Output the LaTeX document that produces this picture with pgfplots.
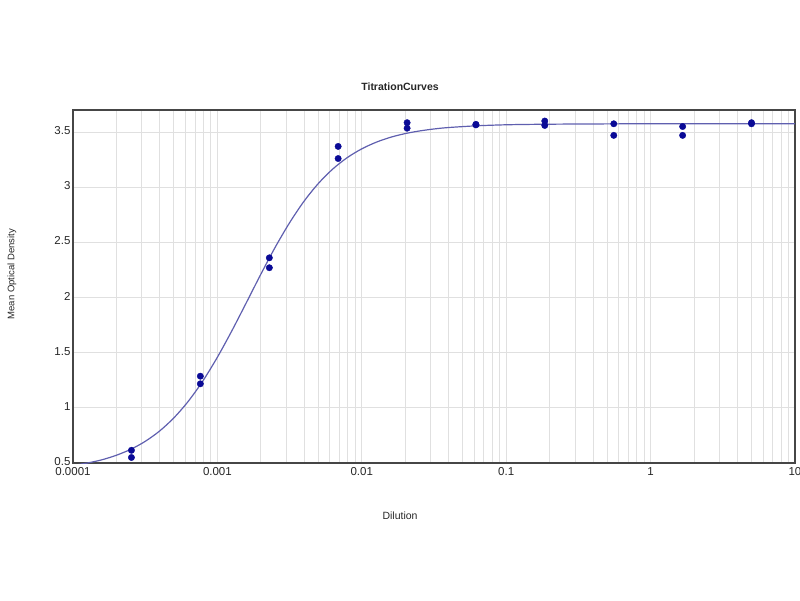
\documentclass[border=0pt]{standalone}
\usepackage{fontspec}
\setmainfont{Liberation Sans}
\usepackage{pgfplots}
\pgfplotsset{compat=1.18}
\definecolor{ptcol}{RGB}{10,10,150}
\definecolor{fitcol}{RGB}{95,95,175}
\definecolor{gridcol}{RGB}{224,224,224}
\definecolor{framecol}{RGB}{70,70,70}
\begin{document}
\begin{tikzpicture}[x=1pt,y=1pt]
\useasboundingbox (0,0) rectangle (800,600);
\begin{axis}[
  at={(73pt,137pt)}, anchor=south west,
  scale only axis, width=722pt, height=353pt,
  xmode=log, xmin=0.0001, xmax=10,
  ymin=0.5, ymax=3.7,
  log basis x=10,
  xtick={0.0001,0.001,0.01,0.1,1,10},
  xticklabels={0.0001,0.001,0.01,0.1,1,10},
  minor xtick={0.0002,0.0003,0.0004,0.0005,0.0006,0.0007,0.0008,0.0009,
               0.002,0.003,0.004,0.005,0.006,0.007,0.008,0.009,
               0.02,0.03,0.04,0.05,0.06,0.07,0.08,0.09,
               0.2,0.3,0.4,0.5,0.6,0.7,0.8,0.9,
               2,3,4,5,6,7,8,9},
  ytick={0.5,1,1.5,2,2.5,3,3.5},
  yticklabels={0.5,1,1.5,2,2.5,3,3.5},
  xminorgrids=true, xmajorgrids=true, ymajorgrids=true,
  grid style={draw=gridcol, line width=0.9pt},
  minor grid style={draw=gridcol, line width=0.9pt},
  major tick length=0pt, minor tick length=0pt,
  axis line style={draw=framecol, line width=1.4pt},
  tick label style={font=\fontsize{11.5}{13}\selectfont, text=black!85},
  xticklabel style={yshift=-0.5pt, text height=8.5pt, text depth=0pt},
  yticklabel style={xshift=1pt, yshift=1.5pt},
  title={\textbf{TitrationCurves}},
  title style={at={(0.453,1.05)}, anchor=center, font=\fontsize{10.5}{12}\selectfont, text=black!85},
  xlabel={Dilution},
  xlabel style={at={(0.453,-0.150)}, anchor=center, font=\fontsize{10.5}{12}\selectfont, text=black!85},
  ylabel={Mean Optical Density},
  ylabel style={at={(-0.0845,0.535)}, anchor=center, font=\fontsize{9.5}{11}\selectfont, text=black!85},
]
\addplot[fitcol, line width=1.2pt, smooth] coordinates {
(0.0001,0.478) (0.00012589,0.500) (0.00015849,0.529) (0.00019953,0.570)
(0.00025119,0.624) (0.00031623,0.696) (0.00039811,0.790) (0.00050119,0.911)
(0.00063096,1.062) (0.00079433,1.245) (0.001,1.459) (0.0012589,1.698)
(0.0015849,1.952) (0.0019953,2.209) (0.0025119,2.455) (0.0031623,2.678)
(0.0039811,2.873) (0.0050119,3.035) (0.0063096,3.166) (0.0079433,3.269)
(0.01,3.348) (0.012589,3.408) (0.015849,3.453) (0.019953,3.486)
(0.025119,3.510) (0.031623,3.528) (0.039811,3.541) (0.063096,3.557)
(0.1,3.566) (0.15849,3.570) (0.31623,3.573) (1,3.575) (10,3.575)
};
\addplot[only marks, mark=*, mark size=3.2pt, mark options={draw=ptcol, fill=ptcol}] coordinates {
(0.000254,0.615) (0.000254,0.55)
(0.000762,1.287) (0.000762,1.218)
(0.00229,2.36) (0.00229,2.27)
(0.00686,3.37) (0.00686,3.26)
(0.0206,3.585) (0.0206,3.535)
(0.0617,3.57) (0.0617,3.565)
(0.185,3.60) (0.185,3.56)
(0.556,3.575) (0.556,3.47)
(1.667,3.55) (1.667,3.47)
(5,3.585) (5,3.575)
};
\end{axis}
\end{tikzpicture}
\end{document}
